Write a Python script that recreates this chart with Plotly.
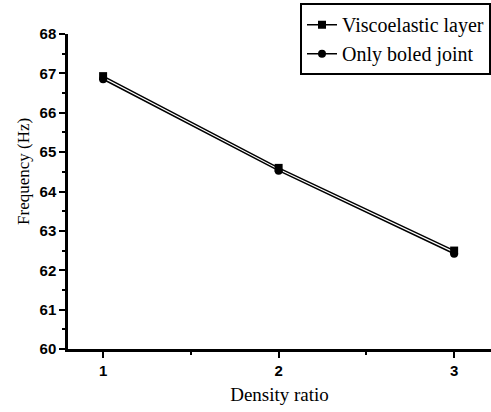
import plotly.graph_objects as go

density_ratio = [1, 2, 3]
visco_freq = [66.93, 64.60, 62.50]
bolted_freq = [66.85, 64.53, 62.42]
series_names = ["Viscoelastic layer", "Only boled joint"]

fig = go.Figure()
fig.add_trace(go.Scatter(x=density_ratio, y=visco_freq, mode="lines+markers",
                         name=series_names[0],
                         line=dict(color="black", width=1.5),
                         marker=dict(symbol="square", size=8, color="black")))
fig.add_trace(go.Scatter(x=density_ratio, y=bolted_freq, mode="lines+markers",
                         name=series_names[1],
                         line=dict(color="black", width=1.5),
                         marker=dict(symbol="circle", size=8, color="black")))

axis_common = dict(showline=True, linecolor="black", linewidth=2.5, ticks="outside",
                   ticklen=6, tickwidth=2, tickcolor="black", showgrid=False, zeroline=False,
                   tickfont=dict(family="Liberation Sans", size=15, color="black", weight="bold"),
                   minor=dict(ticks="outside", ticklen=3, tickwidth=1.5, tickcolor="black"))

fig.update_xaxes(range=[0.8, 3.21], tickmode="array", tickvals=[1, 2, 3], **axis_common,
                 title=dict(text="Density ratio", font=dict(family="Liberation Serif", size=19, color="black"), standoff=10))
fig.update_layout(xaxis_minor_tickvals=[1.5, 2.5])
fig.update_yaxes(range=[60, 68], dtick=1, **axis_common)
fig.update_layout(yaxis_minor_dtick=0.5)

fig.add_annotation(text="Frequency (Hz)", xref="paper", yref="paper", x=-0.104, y=0.562,
                   xanchor="center", yanchor="middle", textangle=-90, showarrow=False,
                   font=dict(family="Liberation Serif", size=17, color="black"))

fig.update_layout(
    width=491, height=412,
    margin=dict(l=68, r=0, t=34, b=63),
    plot_bgcolor="white", paper_bgcolor="white",
    showlegend=True,
    legend=dict(x=1, xanchor="right", y=1.098, yanchor="top",
                bgcolor="white", bordercolor="black", borderwidth=2,
                font=dict(family="Liberation Serif", size=20, color="black"),
                tracegroupgap=0, itemwidth=30),
)

fig.write_html("out.html")
